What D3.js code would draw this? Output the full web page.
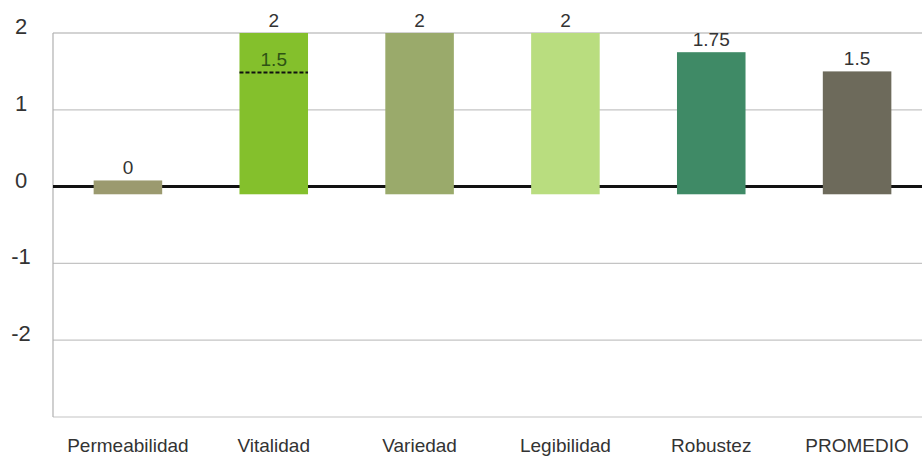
<!DOCTYPE html>
<html>
<head>
<meta charset="utf-8">
<script src="https://cdn.jsdelivr.net/npm/d3@7"></script>
<style>
  html, body { margin: 0; padding: 0; background: #fff; }
  svg { display: block; }
</style>
</head>
<body>
<svg id="chart" width="922" height="460"></svg>
<script>
const categories = ["Permeabilidad", "Vitalidad", "Variedad", "Legibilidad", "Robustez", "PROMEDIO"];
const values = [0, 2, 2, 2, 1.75, 1.5];
const valueLabels = ["0", "2", "2", "2", "1.75", "1.5"];
const barColors = ["#9b9a6f", "#84c02c", "#9aaa6b", "#b9dd7f", "#3f8a66", "#6d6a5b"];
const yTicks = [-2, -1, 0, 1, 2];
const gridValues = [-3, -2, -1, 1, 2];
const markerCategory = "Vitalidad";
const markerValue = 1.5;
const markerLabel = "1.5";

const svg = d3.select("#chart");
const font = "'Liberation Sans', Arial, sans-serif";

const y = d3.scaleLinear().domain([-3, 2]).range([417, 33]);
const x = d3.scaleBand().domain(categories).range([55, 930]).paddingInner(0.53).paddingOuter(0.265);

const plotLeft = 53, plotRight = 922;

// gridlines
svg.append("g").selectAll("line").data(gridValues).join("line")
  .attr("x1", plotLeft).attr("x2", plotRight)
  .attr("y1", d => y(d)).attr("y2", d => y(d))
  .attr("stroke", d => d === 2 ? "#a8a8a8" : "#c4c4c4")
  .attr("stroke-width", 1.2);

// left axis line
svg.append("line")
  .attr("x1", plotLeft).attr("x2", plotLeft)
  .attr("y1", y(2)).attr("y2", y(-3))
  .attr("stroke", "#b0b0b0").attr("stroke-width", 1.2);

// y tick labels
svg.append("g").selectAll("text").data(yTicks).join("text")
  .attr("x", 21).attr("y", d => y(d) + 1)
  .attr("text-anchor", "middle")
  .attr("font-family", font).attr("font-size", 22)
  .attr("fill", "#333")
  .text(d => d);

// zero line
svg.append("line")
  .attr("x1", plotLeft).attr("x2", plotRight)
  .attr("y1", y(0)).attr("y2", y(0))
  .attr("stroke", "#111").attr("stroke-width", 3);

// bars
const barBase = -0.1, minTop = 0.08;
svg.append("g").selectAll("rect").data(categories).join("rect")
  .attr("x", d => x(d))
  .attr("width", x.bandwidth())
  .attr("y", (d, i) => y(Math.max(values[i], minTop)))
  .attr("height", (d, i) => y(barBase) - y(Math.max(values[i], minTop)))
  .attr("fill", (d, i) => barColors[i]);

// value labels
svg.append("g").selectAll("text").data(categories).join("text")
  .attr("x", d => x(d) + x.bandwidth() / 2)
  .attr("y", (d, i) => y(Math.max(values[i], minTop)) - 6)
  .attr("text-anchor", "middle")
  .attr("font-family", font).attr("font-size", 19)
  .attr("fill", "#333")
  .text((d, i) => valueLabels[i]);

// marker dashed line and label
svg.append("line")
  .attr("x1", x(markerCategory)).attr("x2", x(markerCategory) + x.bandwidth())
  .attr("y1", y(markerValue) + 1).attr("y2", y(markerValue) + 1)
  .attr("stroke", "#111").attr("stroke-width", 2)
  .attr("stroke-dasharray", "4,2");
svg.append("text")
  .attr("x", x(markerCategory) + x.bandwidth() / 2)
  .attr("y", y(markerValue) - 5)
  .attr("text-anchor", "middle")
  .attr("font-family", font).attr("font-size", 19)
  .attr("fill", "#2e5314")
  .text(markerLabel);

// category labels
svg.append("g").selectAll("text").data(categories).join("text")
  .attr("x", d => x(d) + x.bandwidth() / 2)
  .attr("y", 452)
  .attr("text-anchor", "middle")
  .attr("font-family", font).attr("font-size", 19)
  .attr("fill", "#333")
  .text(d => d);
</script>
</body>
</html>
